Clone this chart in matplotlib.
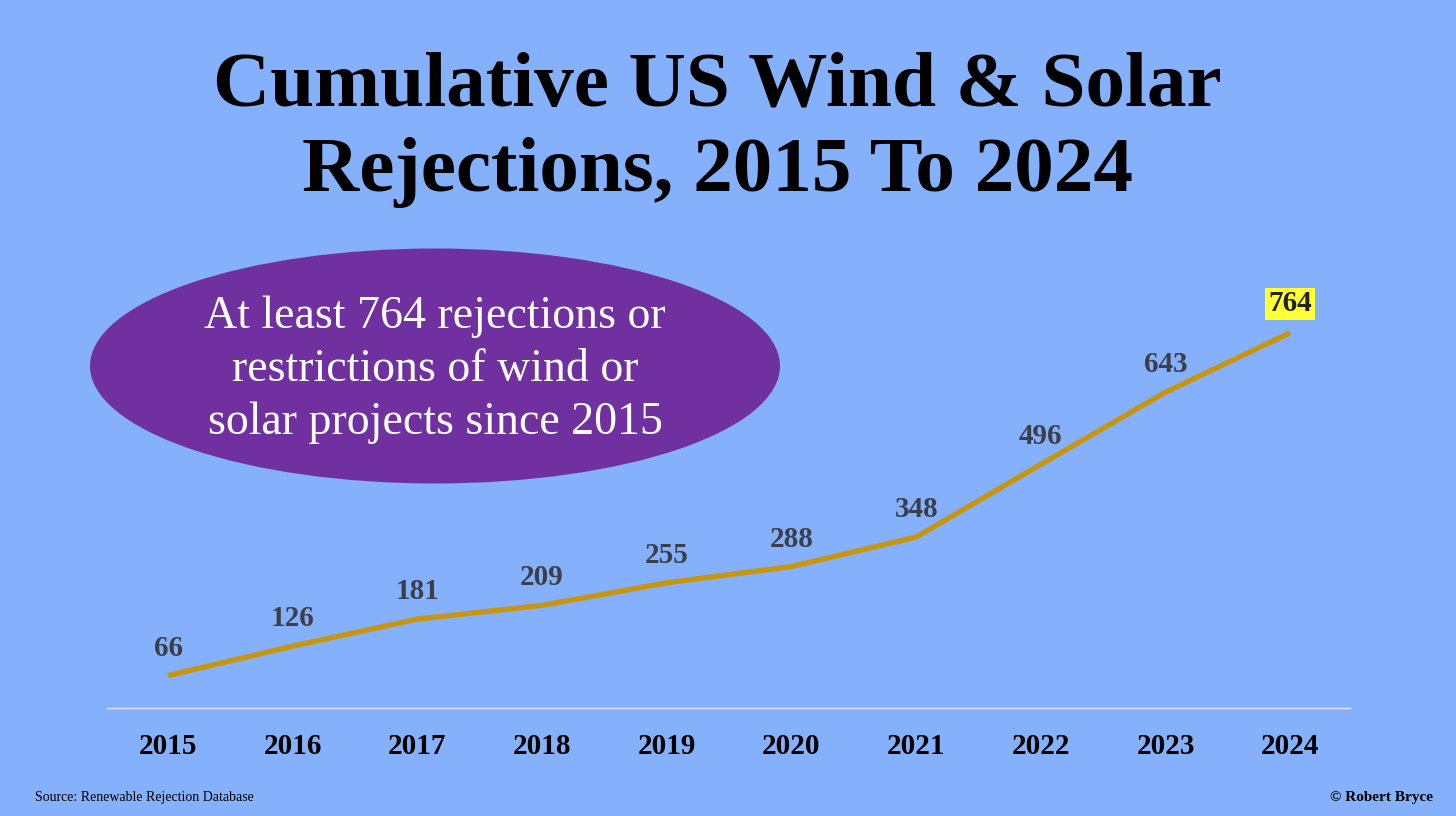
import matplotlib
matplotlib.use("Agg")
import matplotlib.pyplot as plt
from matplotlib.patches import Ellipse

# data
years = [2015, 2016, 2017, 2018, 2019, 2020, 2021, 2022, 2023, 2024]
rejections = [66, 126, 181, 209, 255, 288, 348, 496, 643, 764]

bg = '#85b0fb'
plt.rcParams['font.family'] = ['Liberation Serif', 'DejaVu Serif']

fig = plt.figure(figsize=(14.56, 8.16), dpi=100, facecolor=bg)
ax = fig.add_axes([0.0735, 0.1324, 0.8537, 0.561])
ax.set_facecolor(bg)
ax.plot(years, rejections, color='#c8960c', lw=3.8, solid_capstyle='butt')
ax.set_xlim(2014.51, 2024.48)
ax.set_ylim(0, 932)

for x, y in zip(years, rejections):
    if x == 2024:
        ax.annotate(str(y), (x, y), xytext=(0, 11), textcoords='offset points',
                    ha='center', va='bottom', fontsize=21, fontweight='bold', color='#222222',
                    bbox=dict(boxstyle='square,pad=0.1', fc='#ffff33', ec='none'))
    else:
        ax.annotate(str(y), (x, y), xytext=(0, 10), textcoords='offset points',
                    ha='center', va='bottom', fontsize=21, fontweight='bold', color='#3a3f4a')

for s in ['top', 'left', 'right']:
    ax.spines[s].set_visible(False)
ax.spines['bottom'].set_color('#dde8ff')
ax.spines['bottom'].set_linewidth(1)
ax.set_yticks([])
ax.set_xticks(years)
ax.tick_params(axis='x', length=0, pad=18)
for lab in ax.get_xticklabels():
    lab.set_fontsize(21)
    lab.set_fontweight('bold')

# title
fig.text(0.493, 0.893, 'Cumulative US Wind & Solar', ha='center', va='center',
         fontsize=57, fontweight='bold')
fig.text(0.493, 0.788, 'Rejections, 2015 To 2024', ha='center', va='center',
         fontsize=57, fontweight='bold')

# callout ellipse
ell = Ellipse((435 / 1456, 1 - 366 / 816), 690 / 1456, 235 / 816,
              transform=fig.transFigure, fc='#7030a0', ec='none')
fig.patches.append(ell)
fig.text(435 / 1456, 1 - 370 / 816,
         'At least 764 rejections or\nrestrictions of wind or\nsolar projects since 2015',
         ha='center', va='center', fontsize=33, color='white', linespacing=1.32)

fig.text(35 / 1456, 1 - 797 / 816, 'Source: Renewable Rejection Database',
         ha='left', va='center', fontsize=10)
fig.text(1433 / 1456, 1 - 797 / 816, '© Robert Bryce',
         ha='right', va='center', fontsize=11, fontweight='bold')

fig.savefig('out.png', dpi=100, facecolor=bg)
